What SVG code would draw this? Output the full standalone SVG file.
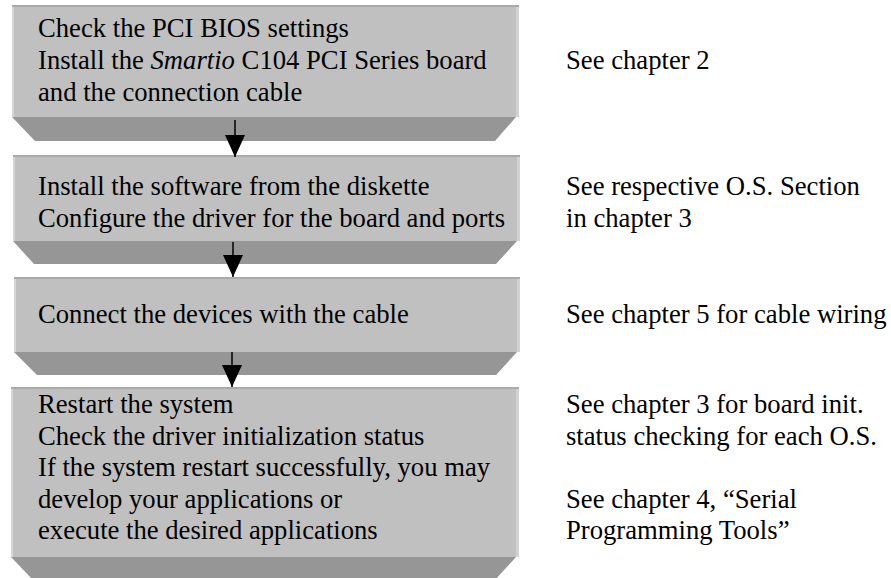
<svg xmlns="http://www.w3.org/2000/svg" width="891" height="578" viewBox="0 0 891 578">
  <style>
    text { font-family: "Liberation Serif", "Times New Roman", serif; font-size: 26.67px; fill: #000; }
    .face { fill: #c0c0c0; }
    .top-edge { fill: #aaaaaa; }
    .left-edge { fill: #d6d6d6; }
    .right-edge { fill: #d2d2d2; }
    .bevel { fill: #969696; }
    .arrow { stroke: #000; stroke-width: 1.5; fill: none; }
  </style>
  <defs>
    <marker id="head" markerUnits="userSpaceOnUse" markerWidth="22" markerHeight="20" viewBox="0 0 22 20" refX="22" refY="10" orient="auto">
      <path d="M0,0 L22,10 L0,20 z" fill="#000"/>
    </marker>
  </defs>

  <!-- Step 1 -->
  <g id="step1">
    <rect class="face" x="12" y="5" width="504" height="112"/>
    <rect class="left-edge" x="12" y="5" width="2" height="112"/>
    <rect class="right-edge" x="516" y="5" width="3" height="112"/>
    <rect class="top-edge" x="12" y="5" width="507" height="2"/>
    <polygon class="bevel" points="12,117 516,117 495,141 35,141"/>
    <text x="38" y="37">Check the PCI BIOS settings</text>
    <text x="38" y="69">Install the <tspan font-style="italic">Smartio</tspan> C104 PCI Series board</text>
    <text x="38" y="101">and the connection cable</text>
  </g>

  <!-- Step 2 -->
  <g id="step2">
    <rect class="face" x="13" y="155" width="504" height="86"/>
    <rect class="left-edge" x="13" y="155" width="2" height="86"/>
    <rect class="right-edge" x="517" y="155" width="3" height="86"/>
    <rect class="top-edge" x="13" y="155" width="507" height="2"/>
    <polygon class="bevel" points="13,241 517,241 496,264 34,264"/>
    <text x="38" y="195">Install the software from the diskette</text>
    <text x="38" y="227">Configure the driver for the board and ports</text>
  </g>

  <!-- Step 3 -->
  <g id="step3">
    <rect class="face" x="14" y="277" width="503" height="75"/>
    <rect class="left-edge" x="14" y="277" width="2" height="75"/>
    <rect class="right-edge" x="517" y="277" width="3" height="75"/>
    <rect class="top-edge" x="14" y="277" width="506" height="2"/>
    <polygon class="bevel" points="14,352 517,352 496,375 37,375"/>
    <text x="38" y="323">Connect the devices with the cable</text>
  </g>

  <!-- Step 4 -->
  <g id="step4">
    <rect class="face" x="11" y="387" width="505" height="170"/>
    <rect class="left-edge" x="11" y="387" width="2" height="170"/>
    <rect class="right-edge" x="516" y="387" width="3" height="170"/>
    <rect class="top-edge" x="11" y="387" width="508" height="2"/>
    <polygon class="bevel" points="11,557 516,557 495,580 33,580"/>
    <text x="38" y="413">Restart the system</text>
    <text x="38" y="444.5">Check the driver initialization status</text>
    <text x="38" y="476">If the system restart successfully, you may</text>
    <text x="38" y="507.5">develop your applications or</text>
    <text x="38" y="539">execute the desired applications</text>
  </g>

  <!-- References to manual chapters -->
  <g id="notes">
    <text x="566" y="69">See chapter 2</text>
    <text x="566" y="195">See respective O.S. Section</text>
    <text x="566" y="227">in chapter 3</text>
    <text x="566" y="323">See chapter 5 for cable wiring</text>
    <text x="566" y="413">See chapter 3 for board init.</text>
    <text x="566" y="444.5">status checking for each O.S.</text>
    <text x="566" y="507.5">See chapter 4, “Serial</text>
    <text x="566" y="539">Programming Tools”</text>
  </g>

  <!-- Flow arrows -->
  <g id="connectors">
    <line class="arrow" x1="235" y1="120" x2="235" y2="157" marker-end="url(#head)"/>
    <line class="arrow" x1="233" y1="242" x2="233" y2="277" marker-end="url(#head)"/>
    <line class="arrow" x1="232" y1="352" x2="232" y2="387" marker-end="url(#head)"/>
  </g>
</svg>
